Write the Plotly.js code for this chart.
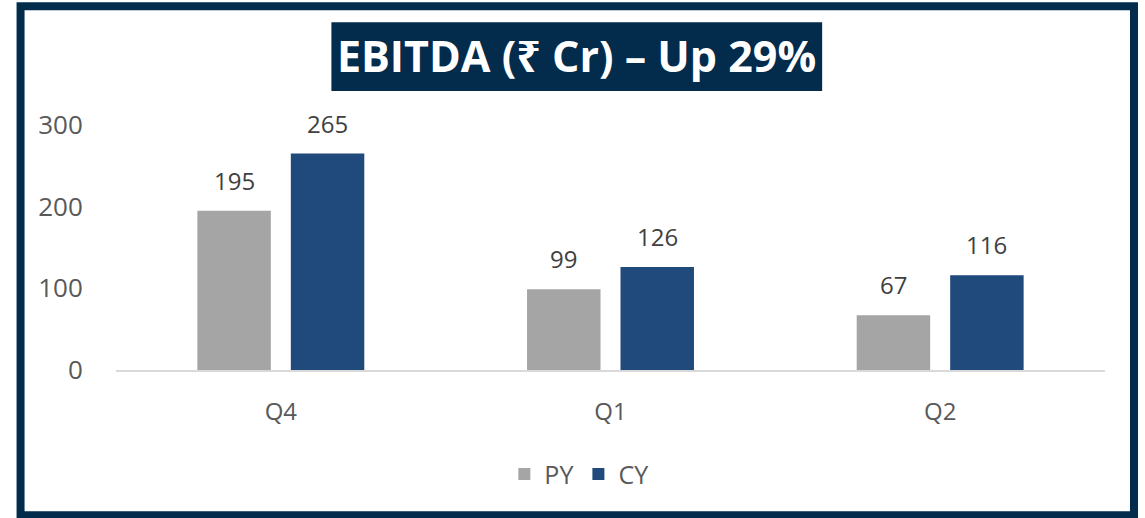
<!DOCTYPE html>
<html>
<head>
<meta charset="utf-8">
<script src="https://cdn.plot.ly/plotly-3.0.1.min.js"></script>
<style>html,body{margin:0;padding:0;background:#fff;}#chart{width:1145px;height:518px;}</style>
</head>
<body>
<div id="chart"></div>
<script>
const categories = ["Q4", "Q1", "Q2"];
const pyValues = [195, 99, 67];
const cyValues = [265, 126, 116];
const seriesNames = ["PY", "CY"];
const yTicks = [0, 100, 200, 300];
const titleText = "EBITDA (₹ Cr) – Up 29%";

const navy = "#022B4C";
const font = "'Open Sans', 'Noto Sans', 'DejaVu Sans', sans-serif";

const traces = [
  {type: "bar", name: seriesNames[0], x: categories, y: pyValues,
   marker: {color: "#A5A5A5"}, hoverinfo: "x+y"},
  {type: "bar", name: seriesNames[1], x: categories, y: cyValues,
   marker: {color: "#20497C"}, hoverinfo: "x+y"}
];

// value labels above each bar (offset to the grouped bar centres)
const labelAnnotations = [];
[pyValues, cyValues].forEach(function (vals, s) {
  vals.forEach(function (v, i) {
    labelAnnotations.push({
      x: categories[i], y: v, xref: "x", yref: "y", text: String(v),
      showarrow: false, xanchor: "center", yanchor: "bottom",
      xshift: s === 0 ? -46.75 : 46.75, yshift: 12,
      font: {family: font, size: 24, color: "#404040"}
    });
  });
});

const layout = {
  width: 1145, height: 518,
  margin: {l: 115.5, r: 39.5, t: 125, b: 147.5, pad: 0},
  paper_bgcolor: "#ffffff", plot_bgcolor: "#ffffff",
  font: {family: font, color: "#595959", size: 24},
  barmode: "group", bargap: 0.433, bargroupgap: 0.214,
  title: {text: titleText, font: {family: font, size: 43, color: "#ffffff", weight: 700},
          x: 0.5035, xref: "container", xanchor: "center",
          y: 0.891, yref: "container", yanchor: "middle"},
  xaxis: {type: "category", showline: true, linecolor: "#D9D9D9", linewidth: 1.5,
          ticks: "outside", ticklen: 19, tickcolor: "rgba(0,0,0,0)",
          tickfont: {size: 24, color: "#595959"}, showgrid: false, zeroline: false, fixedrange: true},
  yaxis: {range: [0, 300], tickvals: yTicks, ticktext: yTicks.map(String),
          showgrid: false, zeroline: false, showline: false,
          ticks: "outside", ticklen: 27, tickcolor: "rgba(0,0,0,0)",
          tickfont: {size: 26, color: "#595959"}, fixedrange: true},
  showlegend: true,
  legend: {orientation: "h", x: 0.468, xanchor: "center", y: -0.426, yanchor: "middle",
           font: {size: 25, color: "#595959"}, bgcolor: "rgba(0,0,0,0)", itemclick: false, itemdoubleclick: false},
  annotations: labelAnnotations,
  shapes: [
    {type: "rect", xref: "paper", yref: "paper", x0: -0.0965, x1: 1.0293, y0: -0.5927, y1: 1.4847,
     line: {color: navy, width: 8}, fillcolor: "rgba(0,0,0,0)", layer: "above"},
    {type: "rect", xref: "paper", yref: "paper", x0: 0.2178, x1: 0.714, y0: 1.1385, y1: 1.4196,
     line: {width: 0}, fillcolor: navy, layer: "below"}
  ]
};

Plotly.newPlot("chart", traces, layout, {displayModeBar: false});
</script>
</body>
</html>
